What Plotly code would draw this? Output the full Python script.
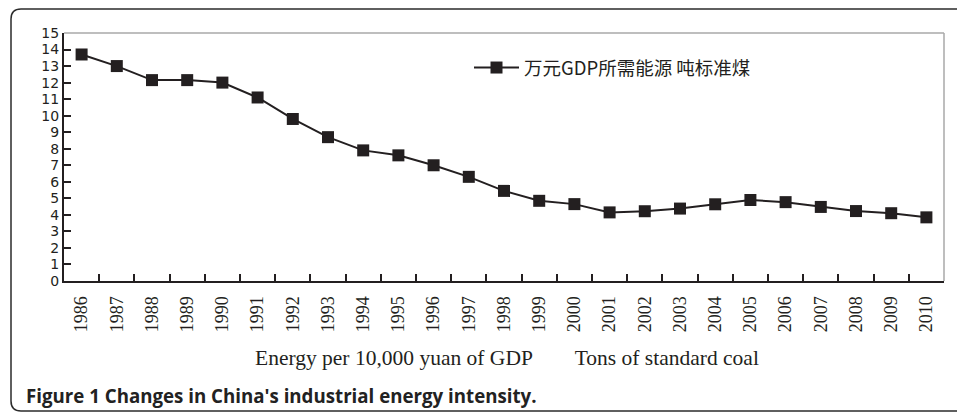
import plotly.graph_objects as go

years = [str(y) for y in range(1986, 2011)]
energy_per_10k_yuan = [13.7, 13.0, 12.15, 12.15, 12.0, 11.1, 9.8, 8.7, 7.9, 7.6, 7.0, 6.3,
                       5.45, 4.85, 4.65, 4.15, 4.22, 4.38, 4.64, 4.9, 4.77, 4.48, 4.23, 4.1, 3.85]
series_name = "万元GDP所需能源 吨标准煤"
x_title = "Energy per 10,000 yuan of GDP        Tons of standard coal"
caption = "Figure 1 Changes in China's industrial energy intensity."
y_ticks = list(range(0, 16))

W, H = 957, 414
L, R, T, B = 64, 13, 33, 133
PW, PH = W - L - R, H - T - B

def px(x):
    return (x - L) / PW

def py(y):
    return (H - B - y) / PH

ink = "#231f20"

fig = go.Figure()
fig.add_trace(go.Scatter(
    x=years, y=energy_per_10k_yuan, name=series_name, mode="lines+markers",
    line=dict(color=ink, width=2),
    marker=dict(symbol="square", size=12, color=ink),
    showlegend=True,
))

# outer rounded frame
x0, x1, y0, y1, r = 11, 962, 9, 411, 10
path = (f"M {px(x0)},{py(y0 + r)} Q {px(x0)},{py(y0)} {px(x0 + r)},{py(y0)} "
        f"L {px(x1)},{py(y0)} L {px(x1)},{py(y1)} L {px(x0 + r)},{py(y1)} "
        f"Q {px(x0)},{py(y1)} {px(x0)},{py(y1 - r)} Z")
shapes = [
    dict(type="path", xref="paper", yref="paper", path=path,
         line=dict(color="#2b2b2b", width=1.5), layer="below"),
    dict(type="line", xref="paper", yref="paper", x0=0, x1=1, y0=1, y1=1,
         line=dict(color="#a8a8a8", width=1.5)),
    dict(type="line", xref="paper", yref="paper", x0=1, x1=1, y0=0, y1=1,
         line=dict(color="#a8a8a8", width=1.5)),
]

annotations = [
    dict(text=x_title, xref="paper", yref="paper", x=px(507), y=py(358),
         xanchor="center", yanchor="middle", showarrow=False,
         font=dict(family="Liberation Serif", size=21.5, color=ink)),
    dict(text=f"<b>{caption}</b>", xref="paper", yref="paper", x=px(24), y=py(395),
         xanchor="left", yanchor="middle", showarrow=False,
         font=dict(family="Open Sans", size=18.7, color="#222222")),
]

fig.update_layout(
    width=W, height=H,
    margin=dict(l=L, r=R, t=T, b=B),
    paper_bgcolor="white", plot_bgcolor="white",
    shapes=shapes, annotations=annotations,
    legend=dict(x=px(469), y=py(68), xanchor="left", yanchor="middle",
                bgcolor="rgba(0,0,0,0)", itemwidth=45,
                font=dict(family="Noto Sans CJK SC", size=18.5, color=ink)),
    xaxis=dict(type="category", range=[-0.5, 24.5], tickson="boundaries",
               ticks="inside", ticklen=7, tickwidth=2, tickcolor=ink,
               showline=True, linecolor=ink, linewidth=2, showgrid=False,
               tickangle=-90, ticklabelstandoff=6,
               tickfont=dict(family="Liberation Serif", size=18, color=ink)),
    yaxis=dict(range=[0, 15], tickvals=y_ticks, ticks="inside", ticklen=7,
               tickwidth=2, tickcolor=ink, showline=True, linecolor=ink,
               linewidth=2, showgrid=False, zeroline=False,
               tickfont=dict(family="DejaVu Sans", size=14, color=ink)),
)

fig.write_html("out.html", config={"displayModeBar": False},
               post_script="document.body.style.margin='0px';")
